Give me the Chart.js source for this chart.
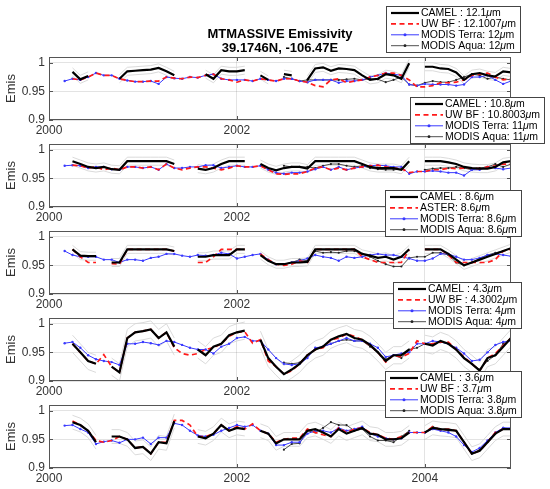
<!DOCTYPE html>
<html>
<head>
<meta charset="utf-8">
<script src="https://cdn.jsdelivr.net/npm/chart.js@4.4.1/dist/chart.umd.min.js"></script>
<style>
  html, body { margin: 0; padding: 0; background: #fff; }
  #wrap { position: relative; width: 550px; height: 489px; overflow: hidden; }
  .panel { position: absolute; left: 0; width: 550px; height: 141px; }
</style>
</head>
<body>
<div id="wrap"></div>
<script>
// ---- data ----
const months = [
  '2000-03','2000-04','2000-05','2000-06','2000-07','2000-08','2000-09','2000-10','2000-11','2000-12',
  '2001-01','2001-02','2001-03','2001-04','2001-05','2001-06','2001-07','2001-08','2001-09','2001-10','2001-11','2001-12',
  '2002-01','2002-02','2002-03','2002-04','2002-05','2002-06','2002-07','2002-08','2002-09','2002-10','2002-11','2002-12',
  '2003-01','2003-02','2003-03','2003-04','2003-05','2003-06','2003-07','2003-08','2003-09','2003-10','2003-11','2003-12',
  '2004-01','2004-02','2004-03','2004-04','2004-05','2004-06','2004-07','2004-08','2004-09','2004-10','2004-11','2004-12'
];
const xTicks = [2000, 2002, 2004];
const yTicks = [0.9, 0.95, 1];
const titleLines = ['MTMASSIVE Emissivity', '39.1746N, -106.47E'];

const names12 = ['CAMEL : 12.1μm', 'UW BF : 12.1007μm', 'MODIS Terra: 12μm', 'MODIS Aqua: 12μm'];
const names11 = ['CAMEL : 10.8μm', 'UW BF : 10.8003μm', 'MODIS Terra: 11μm', 'MODIS Aqua: 11μm'];
const names86 = ['CAMEL : 8.6μm', 'ASTER: 8.6μm', 'MODIS Terra: 8.6μm', 'MODIS Aqua: 8.6μm'];
const names43 = ['CAMEL : 4.3μm', 'UW BF : 4.3002μm', 'MODIS Terra: 4μm', 'MODIS Aqua: 4μm'];
const names36 = ['CAMEL : 3.6μm', 'UW BF : 3.7μm', 'MODIS Terra: 3.8μm', 'MODIS Aqua: 3.8μm'];

// 12 um
const camel12 = [
  null, 0.984, 0.971, 0.977, null, null, null, 0.972, 0.985, 0.986,
  0.987, 0.988, 0.991, 0.985, 0.978, null, null, null, 0.980, 0.972, 0.987, 0.985,
  0.985, 0.987, null, 0.978, 0.970, null, 0.980, 0.978, null, 0.970, 0.990, 0.992,
  0.986, 0.990, 0.989, 0.987, 0.978, 0.970, 0.972, 0.980, 0.978, 0.972, 0.999, null,
  0.993, 0.993, 0.990, 0.989, 0.983, 0.970, 0.980, 0.982, 0.978, 0.976, 0.985, 0.983
];
const uwbf12 = [
  null, 0.972, 0.970, 0.975, 0.982, 0.978, 0.978, 0.972, 0.969, 0.967,
  0.967, 0.968, 0.968, 0.975, 0.973, 0.972, 0.975, 0.974, 0.978, 0.980, 0.972, 0.970,
  0.966, 0.970, 0.968, 0.972, 0.970, 0.968, 0.972, 0.972, 0.968, 0.966, 0.960, 0.958,
  0.970, 0.972, 0.965, 0.968, 0.970, 0.975, 0.978, 0.982, 0.982, 0.978, 0.970, 0.958,
  0.958, 0.960, 0.965, 0.965, 0.966, 0.970, 0.978, 0.980, 0.982, 0.975, 0.970, 0.972
];
const terra12 = [
  0.968, 0.972, 0.970, 0.975, 0.982, 0.978, 0.978, 0.972, 0.969, 0.967,
  0.967, 0.968, 0.963, 0.975, 0.973, 0.972, 0.975, 0.974, 0.978, 0.980, 0.972, 0.970,
  0.970, 0.970, 0.968, 0.972, 0.970, 0.968, 0.972, 0.972, 0.968, 0.966, 0.970, 0.970,
  0.970, 0.965, 0.968, 0.968, 0.970, 0.975, 0.978, 0.982, 0.980, 0.978, 0.962, 0.960,
  0.963, 0.962, 0.962, 0.962, 0.960, 0.962, 0.975, 0.975, 0.978, 0.970, 0.963, 0.968
];
const aqua12 = [
  null, null, null, null, null, null, null, null, null, null,
  null, null, null, null, null, null, null, null, null, null, null, null,
  null, null, null, null, null, null, 0.975, 0.972, 0.968, 0.970, 0.970, 0.970,
  0.970, 0.970, 0.971, 0.972, 0.970, 0.972, 0.971, 0.966, 0.970, 0.975, 0.962, 0.960,
  0.965, 0.968, 0.966, 0.966, 0.970, 0.975, 0.980, 0.978, 0.972, 0.975, 0.972, 0.970
];

// 11 um
const camel11 = [
  null, 0.980, 0.975, 0.970, 0.968, 0.970, 0.966, 0.965, 0.980, 0.980,
  0.980, 0.980, 0.980, 0.980, 0.975, null, null, 0.967, 0.965, 0.968, 0.975, 0.980,
  0.980, 0.980, null, 0.975, 0.968, 0.964, 0.968, 0.970, 0.970, 0.967, 0.980, 0.980,
  0.980, 0.980, 0.980, 0.980, 0.975, 0.970, 0.968, 0.968, 0.968, 0.965, 0.980, null,
  0.980, 0.980, 0.980, 0.978, 0.975, 0.970, 0.968, 0.967, 0.967, 0.970, 0.978, 0.980
];
const uwbf11 = [
  null, 0.973, 0.972, 0.968, 0.970, 0.965, 0.968, 0.965, 0.970, 0.970,
  0.968, 0.970, 0.965, 0.975, 0.968, 0.965, 0.968, 0.970, 0.970, 0.968, 0.965, 0.968,
  0.972, 0.970, 0.970, 0.972, 0.965, 0.958, 0.957, 0.958, 0.958, 0.962, 0.968, 0.970,
  0.965, 0.968, 0.965, 0.968, 0.970, 0.972, 0.973, 0.970, 0.968, 0.967, 0.960, 0.962,
  0.962, 0.965, 0.965, 0.968, 0.967, 0.968, 0.968, 0.967, 0.970, 0.972, 0.975, 0.975
];
const terra11 = [
  0.972, 0.973, 0.972, 0.968, 0.970, 0.970, 0.966, 0.965, 0.970, 0.970,
  0.968, 0.970, 0.965, 0.975, 0.968, 0.968, 0.970, 0.970, 0.973, 0.973, 0.968, 0.970,
  0.972, 0.970, 0.970, 0.972, 0.965, 0.960, 0.958, 0.960, 0.960, 0.962, 0.966, 0.970,
  0.965, 0.970, 0.965, 0.968, 0.970, 0.972, 0.973, 0.972, 0.970, 0.970, 0.958, 0.962,
  0.962, 0.963, 0.962, 0.960, 0.960, 0.955, 0.965, 0.965, 0.970, 0.968, 0.966, 0.968
];
const aqua11 = [
  null, null, null, null, null, null, null, null, null, null,
  null, null, null, null, null, null, null, null, null, null, null, null,
  null, null, null, null, null, null, 0.972, 0.970, 0.970, 0.970, 0.968, 0.972,
  0.975, 0.975, 0.972, 0.970, 0.972, 0.968, 0.966, 0.965, 0.965, 0.966, null, null,
  0.965, 0.967, 0.968, 0.968, 0.970, 0.968, 0.965, 0.968, 0.970, 0.975, 0.970, 0.975
];

// 8.6 um
const camel86 = [
  null, 0.978, 0.967, 0.966, 0.966, null, 0.955, 0.955, 0.978, 0.978,
  0.978, 0.978, 0.978, 0.978, 0.975, null, null, 0.965, 0.965, 0.968, 0.968, 0.968,
  0.978, 0.978, null, 0.968, 0.958, 0.952, 0.952, 0.955, 0.955, 0.956, 0.978, 0.978,
  0.978, 0.978, 0.978, 0.978, 0.970, 0.967, 0.963, 0.965, 0.960, 0.965, 0.978, null,
  0.978, 0.978, 0.978, 0.970, 0.960, 0.950, 0.955, 0.960, 0.965, 0.970, 0.975, 0.980
];
const aster86 = [
  null, 0.978, 0.965, 0.955, 0.955, null, 0.953, 0.952, 0.978, 0.978,
  0.978, 0.978, 0.978, 0.978, 0.975, null, null, 0.955, 0.955, 0.965, 0.978, 0.978,
  0.978, 0.978, null, 0.970, 0.960, 0.952, 0.950, 0.952, 0.958, 0.955, 0.978, 0.978,
  0.978, 0.978, 0.978, 0.978, 0.965, 0.960, 0.955, 0.955, 0.955, 0.955, 0.977, null,
  0.978, 0.978, 0.978, 0.968, 0.955, 0.955, 0.955, 0.955, 0.955, 0.960, 0.975, 0.978
];
const terra86 = [
  0.975, 0.968, 0.965, 0.965, 0.965, 0.960, 0.960, 0.955, 0.960, 0.960,
  0.958, 0.963, 0.965, 0.970, 0.970, 0.967, 0.965, 0.968, 0.967, 0.968, 0.972, 0.970,
  0.962, 0.965, 0.968, 0.970, 0.960, 0.952, 0.952, 0.955, 0.958, 0.962, 0.968, 0.965,
  0.963, 0.958, 0.965, 0.963, 0.965, 0.968, 0.970, 0.968, 0.968, 0.965, 0.962, 0.958,
  0.958, 0.962, 0.970, 0.970, 0.965, 0.960, 0.960, 0.963, 0.968, 0.970, 0.968, 0.966
];
const aqua86 = [
  null, null, null, null, null, null, null, null, null, null,
  null, null, null, null, null, null, null, null, null, null, null, null,
  null, null, null, null, null, null, 0.952, 0.955, 0.960, 0.958, 0.975, 0.972,
  0.973, 0.972, 0.975, 0.975, 0.970, 0.965, 0.958, 0.952, 0.948, 0.948, 0.963, 0.965,
  0.965, 0.972, 0.972, 0.968, 0.955, 0.950, 0.955, 0.962, 0.968, 0.972, 0.975, 0.980
];

// 4 um
const camel43 = [
  null, 0.965, 0.950, 0.935, 0.930, null, 0.925, 0.915, 0.975, 0.985,
  0.987, 0.990, 0.975, 0.985, 0.960, null, null, 0.955, 0.945, 0.960, 0.965, 0.980,
  0.985, 0.988, null, 0.972, 0.940, 0.925, 0.912, 0.920, 0.930, 0.945, 0.955, 0.960,
  0.972, 0.978, 0.982, 0.975, 0.972, 0.963, 0.950, 0.935, 0.945, 0.945, 0.955, null,
  0.965, 0.962, 0.970, 0.965, 0.955, 0.940, 0.930, 0.918, 0.940, 0.945, 0.960, 0.975
];
const uwbf43 = [
  null, 0.965, 0.950, 0.935, 0.930, 0.946, 0.925, 0.915, 0.975, 0.985,
  0.987, 0.990, 0.975, 0.985, 0.958, 0.948, 0.945, 0.948, 0.955, 0.958, 0.965, 0.978,
  0.985, 0.986, 0.966, 0.972, 0.935, 0.925, 0.912, 0.918, 0.930, 0.945, 0.955, 0.958,
  0.972, 0.975, 0.982, 0.978, 0.972, 0.962, 0.950, 0.933, 0.945, 0.942, 0.948, 0.970,
  0.965, 0.965, 0.968, 0.968, 0.955, 0.942, 0.930, 0.918, 0.940, 0.948, 0.962, 0.975
];
const terra43 = [
  0.966, 0.968, 0.958, 0.945, 0.938, 0.935, 0.933, 0.928, 0.965, 0.965,
  0.968, 0.966, 0.963, 0.970, 0.968, 0.963, 0.958, 0.955, 0.955, 0.948, 0.960, 0.965,
  0.975, 0.977, 0.970, 0.970, 0.955, 0.940, 0.930, 0.928, 0.930, 0.940, 0.958, 0.960,
  0.965, 0.970, 0.975, 0.970, 0.970, 0.965, 0.958, 0.942, 0.945, 0.948, 0.950, 0.965,
  0.965, 0.970, 0.968, 0.965, 0.958, 0.948, 0.935, 0.937, 0.950, 0.963, 0.968, 0.970
];
const aqua43 = [
  null, null, null, null, null, null, null, null, null, null,
  null, null, null, null, null, null, null, null, null, null, null, null,
  null, null, null, null, null, null, 0.932, 0.930, 0.932, 0.945, 0.955, 0.960,
  0.965, 0.970, 0.972, 0.970, 0.970, 0.960, 0.950, 0.938, 0.945, 0.940, 0.955, 0.958,
  0.965, 0.965, 0.968, 0.965, 0.955, 0.940, 0.930, 0.920, 0.935, 0.945, 0.965, 0.975
];

// 3.6 um
const camel36 = [
  null, 0.980, 0.975, 0.965, 0.945, null, 0.955, 0.955, 0.950, 0.935,
  0.937, 0.925, 0.945, 0.943, 0.982, null, null, 0.955, 0.952, 0.960, 0.975, 0.965,
  0.970, 0.968, null, 0.965, 0.960, 0.943, 0.950, 0.950, 0.950, 0.965, 0.968, 0.962,
  0.955, 0.968, 0.960, 0.965, 0.970, 0.960, 0.958, 0.950, 0.950, 0.952, 0.962, null,
  0.962, 0.970, 0.968, 0.967, 0.965, 0.945, 0.925, 0.930, 0.945, 0.960, 0.968, 0.968
];
const uwbf36 = [
  null, 0.982, 0.975, 0.965, 0.948, 0.945, 0.948, 0.955, 0.950, 0.935,
  0.937, 0.925, 0.945, 0.945, 0.983, 0.983, 0.975, 0.955, 0.955, 0.960, 0.975, 0.965,
  0.972, 0.968, 0.977, 0.965, 0.960, 0.945, 0.950, 0.952, 0.952, 0.968, 0.962, 0.958,
  0.955, 0.970, 0.962, 0.968, 0.970, 0.962, 0.958, 0.952, 0.950, 0.955, 0.962, 0.962,
  0.962, 0.972, 0.967, 0.968, 0.965, 0.945, 0.925, 0.930, 0.945, 0.962, 0.968, 0.968
];
const terra36 = [
  0.974, 0.975, 0.968, 0.962, 0.942, 0.946, 0.948, 0.944, 0.950, 0.950,
  0.953, 0.942, 0.953, 0.953, 0.978, 0.975, 0.965, 0.957, 0.955, 0.958, 0.965, 0.970,
  0.975, 0.972, 0.975, 0.965, 0.960, 0.940, 0.940, 0.945, 0.945, 0.960, 0.965, 0.965,
  0.962, 0.970, 0.965, 0.968, 0.972, 0.960, 0.955, 0.952, 0.950, 0.952, 0.962, 0.962,
  0.962, 0.968, 0.965, 0.962, 0.955, 0.940, 0.928, 0.935, 0.948, 0.962, 0.970, 0.970
];
const aqua36 = [
  null, null, null, null, null, null, null, null, null, null,
  null, null, null, null, null, null, null, null, null, null, null, null,
  null, null, null, null, null, null, 0.932, 0.942, 0.943, 0.965, 0.962, 0.970,
  0.980, 0.975, 0.975, 0.965, 0.968, 0.955, 0.948, 0.948, 0.945, 0.955, 0.965, null,
  0.962, 0.972, 0.968, 0.965, 0.965, 0.945, 0.925, 0.932, 0.945, 0.960, 0.970, 0.968
];

// CAMEL uncertainty (gray envelope) per panel
const camelUnc = [0.007, 0.007, 0.007, 0.015, 0.012];

// ---- layout ----
const panelTops = [57, 144, 231, 318, 405];   // page y of each plot box
const legendPos = [                           // page position of each legend box
  { right: 521, top: 6 },
  { right: 545, top: 97 },
  { right: 522, top: 190 },
  { right: 522, top: 282 },
  { right: 522, top: 371 },
];
const FONT = '"Liberation Sans", Arial, Helvetica, sans-serif';
const AXIS_COLOR = '#333';

const panels = [
  { names: names12, camel: camel12, ref: uwbf12, terra: terra12, aqua: aqua12 },
  { names: names11, camel: camel11, ref: uwbf11, terra: terra11, aqua: aqua11 },
  { names: names86, camel: camel86, ref: aster86, terra: terra86, aqua: aqua86 },
  { names: names43, camel: camel43, ref: uwbf43, terra: terra43, aqua: aqua43 },
  { names: names36, camel: camel36, ref: uwbf36, terra: terra36, aqua: aqua36 },
];

const toYear = (m) => {
  const [y, mo] = m.split('-').map(Number);
  return y + (mo - 1) / 12;
};
const xs = months.map(toYear);
const pts = (vals) => vals.map((v, i) => ({ x: xs[i], y: v }));

// ---- plugins ----
// matlab-like box with inward ticks
const matlabBox = {
  id: 'matlabBox',
  afterDatasetsDraw(chart) {
    const { ctx, chartArea: a, scales: { x, y } } = chart;
    ctx.save();
    ctx.strokeStyle = '#555';
    ctx.lineWidth = 1;
    ctx.beginPath();
    xTicks.forEach((v) => {
      const px = Math.round(x.getPixelForValue(v)) + 0.5;
      ctx.moveTo(px, a.bottom); ctx.lineTo(px, a.bottom - 4);
      ctx.moveTo(px, a.top); ctx.lineTo(px, a.top + 4);
    });
    yTicks.forEach((v) => {
      const py = Math.round(y.getPixelForValue(v)) + 0.5;
      ctx.moveTo(a.left, py); ctx.lineTo(a.left + 4, py);
      ctx.moveTo(a.right, py); ctx.lineTo(a.right - 4, py);
    });
    ctx.stroke();
    ctx.strokeRect(Math.round(a.left) + 0.5, Math.round(a.top) + 0.5,
      Math.round(a.width) - 1, Math.round(a.height) - 1);
    ctx.restore();
  },
};

function drawMuText(ctx, text, x, y, size) {
  const normal = size + 'px ' + FONT;
  const italic = 'italic ' + size + 'px ' + FONT;
  const parts = text.split('μ');
  let cx = x;
  parts.forEach((p, i) => {
    if (i > 0) {
      ctx.font = italic;
      ctx.fillText('μ', cx, y);
      cx += ctx.measureText('μ').width;
    }
    ctx.font = normal;
    ctx.fillText(p, cx, y);
    cx += ctx.measureText(p).width;
  });
  return cx - x;
}

function measureMuText(ctx, text, size) {
  let w = 0;
  text.split('μ').forEach((p, i) => {
    if (i > 0) { ctx.font = 'italic ' + size + 'px ' + FONT; w += ctx.measureText('μ').width; }
    ctx.font = size + 'px ' + FONT;
    w += ctx.measureText(p).width;
  });
  return w;
}

// boxed legend floated above the plot, like matlab's legend
const boxLegend = {
  id: 'boxLegend',
  afterDraw(chart, args, opts) {
    const ctx = chart.ctx;
    const items = chart.data.datasets.filter((d) => d.showInLegend);
    const size = 10.5;
    const rowH = 10.9;
    ctx.save();
    const textW = Math.max(...items.map((d) => measureMuText(ctx, d.label, size)));
    const w = Math.round(36 + textW + 4);
    const h = 47;
    const left = opts.right - w;
    const top = opts.top;
    ctx.fillStyle = '#fff';
    ctx.fillRect(left, top, w, h);
    ctx.strokeStyle = '#444';
    ctx.lineWidth = 1;
    ctx.strokeRect(left + 0.5, top + 0.5, w - 1, h - 1);
    items.forEach((d, i) => {
      const cy = top + 7 + i * rowH;
      ctx.strokeStyle = d.borderColor;
      ctx.lineWidth = d.borderWidth;
      ctx.setLineDash(d.borderDash || []);
      ctx.beginPath();
      ctx.moveTo(left + 5, cy);
      ctx.lineTo(left + 33, cy);
      ctx.stroke();
      ctx.setLineDash([]);
      if (d.pointRadius > 0) {
        ctx.fillStyle = d.borderColor;
        ctx.beginPath();
        ctx.arc(left + 19, cy, d.pointRadius + 0.3, 0, Math.PI * 2);
        ctx.fill();
      }
      ctx.fillStyle = '#000';
      ctx.textBaseline = 'middle';
      ctx.textAlign = 'left';
      drawMuText(ctx, d.label, left + 35, cy + 0.5, size);
    });
    ctx.restore();
  },
};

// two-line bold title on the first panel
const figTitle = {
  id: 'figTitle',
  afterDraw(chart, args, opts) {
    if (!opts.lines) return;
    const { ctx, chartArea: a } = chart;
    ctx.save();
    ctx.fillStyle = '#000';
    ctx.font = 'bold 13px ' + FONT;
    ctx.textAlign = 'center';
    ctx.textBaseline = 'middle';
    opts.lines.forEach((t, i) => ctx.fillText(t, (a.left + a.right) / 2, 34 + i * 14));
    ctx.restore();
  },
};

// ---- build panels ----
const wrap = document.getElementById('wrap');

panels.forEach((p, i) => {
  const canvasTop = panelTops[i] - 57;
  const box = document.createElement('div');
  box.className = 'panel';
  box.style.top = canvasTop + 'px';
  const canvas = document.createElement('canvas');
  box.appendChild(canvas);
  wrap.appendChild(box);

  const unc = camelUnc[i];
  const hi = p.camel.map((v) => (v === null ? null : v + unc));
  const lo = p.camel.map((v) => (v === null ? null : v - unc));

  const line = (extra) => Object.assign({
    pointRadius: 0, tension: 0, fill: false, spanGaps: false,
  }, extra);

  new Chart(canvas, {
    type: 'line',
    data: {
      datasets: [
        line({ label: p.names[0], data: pts(p.camel), borderColor: '#000', borderWidth: 2.2, showInLegend: true }),
        line({ label: p.names[1], data: pts(p.ref), borderColor: '#ff1a1a', borderWidth: 1.7, borderDash: [5, 3.5], showInLegend: true }),
        line({ label: p.names[2], data: pts(p.terra), borderColor: '#3a3aff', borderWidth: 1, pointRadius: 1.2,
               pointBackgroundColor: '#3a3aff', pointBorderWidth: 0, showInLegend: true }),
        line({ label: p.names[3], data: pts(p.aqua), borderColor: '#222', borderWidth: 0.8, pointRadius: 1.1,
               pointBackgroundColor: '#222', pointBorderWidth: 0, showInLegend: true }),
        line({ label: 'CAMEL +unc', data: pts(hi), borderColor: '#d6d6d6', borderWidth: 0.9 }),
        line({ label: 'CAMEL -unc', data: pts(lo), borderColor: '#d6d6d6', borderWidth: 0.9 }),
      ],
    },
    options: {
      responsive: true,
      maintainAspectRatio: false,
      animation: false,
      events: [],
      layout: { padding: { top: 57, right: 39, bottom: 0, left: 0 } },
      scales: {
        x: {
          type: 'linear',
          min: toYear(months[0]) - 2 / 12,
          max: toYear(months[months.length - 1]),
          afterBuildTicks: (s) => { s.ticks = xTicks.map((v) => ({ value: v })); },
          afterFit: (s) => { s.height = 21; },
          grid: { color: 'rgba(0,0,0,0.11)', drawTicks: false },
          border: { display: false },
          ticks: {
            callback: (v) => String(v),
            autoSkip: false, maxRotation: 0, padding: 3,
            color: AXIS_COLOR, font: { family: FONT, size: 12 },
          },
        },
        y: {
          min: 0.9,
          max: 1.01,
          afterBuildTicks: (s) => { s.ticks = yTicks.map((v) => ({ value: v })); },
          afterFit: (s) => { s.width = 49; },
          grid: { color: 'rgba(0,0,0,0.11)', drawTicks: false },
          border: { display: false },
          ticks: {
            callback: (v) => String(v),
            padding: 4,
            color: AXIS_COLOR, font: { family: FONT, size: 12 },
          },
          title: {
            display: true, text: 'Emis',
            color: AXIS_COLOR, font: { family: FONT, size: 13 },
            padding: { top: 4, bottom: 0 },
          },
        },
      },
      plugins: {
        legend: { display: false },
        tooltip: { enabled: false },
        boxLegend: { right: legendPos[i].right, top: legendPos[i].top - canvasTop },
        figTitle: { lines: i === 0 ? titleLines : null },
      },
    },
    plugins: [matlabBox, boxLegend, figTitle],
  });
});
</script>
</body>
</html>
